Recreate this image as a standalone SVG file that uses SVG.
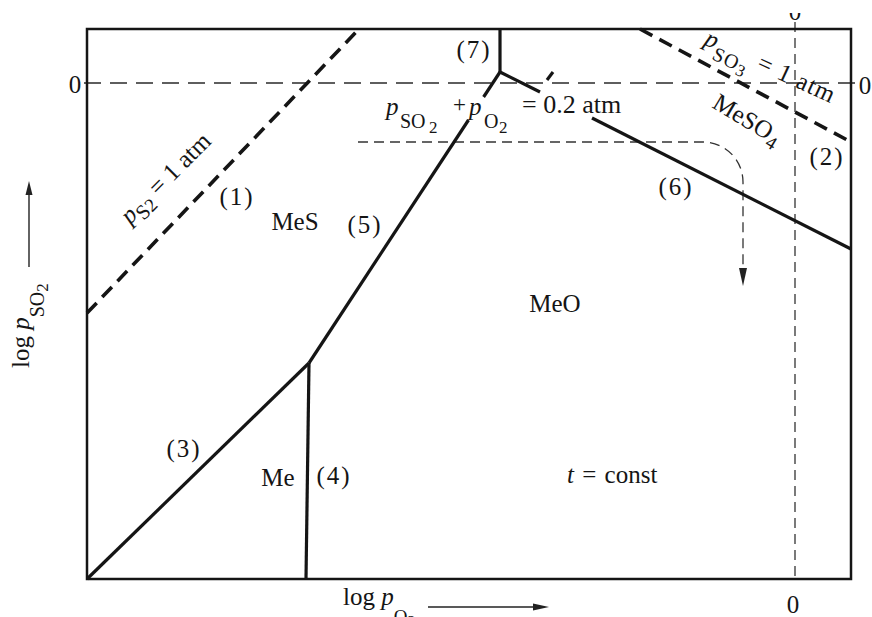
<svg xmlns="http://www.w3.org/2000/svg" width="872" height="617" viewBox="0 0 872 617">
<style>
.frame{fill:none;stroke:#151515;stroke-width:2.5}
.solid{fill:none;stroke:#151515;stroke-width:3.2}
.thick{fill:none;stroke:#151515;stroke-width:3.6;stroke-dasharray:14 8}
.thin{fill:none;stroke:#2a2a2a;stroke-width:1.6;stroke-dasharray:17 9}
.fine{fill:none;stroke:#333;stroke-width:1.3;stroke-dasharray:10 6}
.axis{fill:none;stroke:#222;stroke-width:1.4}
text{font-family:"Liberation Serif","DejaVu Serif",serif;font-size:25px;fill:#151515}
.it{font-style:italic}
.num{letter-spacing:2px}
</style>
<defs>
<clipPath id="topclip"><rect x="770" y="13" width="50" height="20"/></clipPath>
</defs>
<rect width="872" height="617" fill="#fff"/>

<g id="reference-lines">
<line class="thin" x1="84" y1="83" x2="858" y2="83"/>
<line class="fine" x1="795" y1="22" x2="795" y2="579"/>
<path class="fine" d="M358,142 H703 A40,40 0 0 1 743,182 V272"/>
<polygon points="739,268 747,268 743,286" fill="#222"/>
</g>

<g id="frame">
<rect class="frame" x="87" y="29" width="764" height="550"/>
</g>

<g id="connectors">
<line class="thick" x1="87" y1="313" x2="359" y2="29"/>
<line class="thick" x1="640" y1="29" x2="851" y2="142"/>
<line class="solid" x1="87" y1="579" x2="309" y2="363"/>
<line class="solid" x1="309" y1="363" x2="306" y2="579"/>
<line class="solid" x1="309" y1="363" x2="468.5" y2="120"/>
<line class="solid" x1="483.6" y1="97" x2="500" y2="72"/>
<line class="solid" x1="500" y1="29" x2="500" y2="72"/>
<line class="solid" x1="500" y1="72" x2="540" y2="92"/>
<line class="solid" x1="592" y1="118" x2="851" y2="249"/>
<line class="solid" x1="547" y1="80" x2="553" y2="72"/>
</g>

<g id="axis-labels">
<text x="75" y="93" text-anchor="middle">0</text>
<text x="865" y="94" text-anchor="middle">0</text>
<text x="793" y="613" text-anchor="middle">0</text>
<g clip-path="url(#topclip)"><text x="795" y="20" text-anchor="middle">0</text></g>
<text transform="translate(29,368) rotate(-90)" font-size="27">log <tspan class="it">p</tspan><tspan dy="15" font-size="20">SO</tspan><tspan dy="4" font-size="17">2</tspan></text>
<line class="axis" x1="29" y1="267" x2="29" y2="192"/>
<polygon points="25.5,195 32.5,195 29,181" fill="#222"/>
<text x="343" y="605">log <tspan class="it">p</tspan><tspan dy="18" font-size="19">O</tspan><tspan dy="4" font-size="16">2</tspan></text>
<line class="axis" x1="428" y1="607" x2="536" y2="607"/>
<polygon points="533,603.5 533,610.5 549,607" fill="#222"/>
</g>

<g id="region-labels">
<text x="295" y="230" text-anchor="middle">MeS</text>
<text x="555" y="312" text-anchor="middle">MeO</text>
<text x="278" y="486" text-anchor="middle">Me</text>
<text x="567" y="483" font-size="26" word-spacing="2"><tspan class="it">t</tspan> = const</text>
<text transform="translate(711,107) rotate(31)">MeSO<tspan dy="6" font-size="19">4</tspan></text>
</g>

<g id="line-labels">
<text class="num" x="474" y="58" text-anchor="middle">(7)</text>
<text class="num" x="237" y="205" text-anchor="middle">(1)</text>
<text class="num" x="365" y="233" text-anchor="middle">(5)</text>
<text class="num" x="827" y="165" text-anchor="middle">(2)</text>
<text class="num" x="676" y="195" text-anchor="middle">(6)</text>
<text class="num" x="184" y="457" text-anchor="middle">(3)</text>
<text class="num" x="334" y="484" text-anchor="middle">(4)</text>
<text transform="translate(130,225) rotate(-45)" font-size="27"><tspan class="it">p</tspan><tspan dy="7" font-size="21">S</tspan><tspan font-size="19">2</tspan><tspan dy="-7"> = 1 atm</tspan></text>
<text transform="translate(703,44) rotate(25)" font-size="27" letter-spacing="1"><tspan class="it">p</tspan><tspan dy="10" font-size="20">SO</tspan><tspan dy="4" font-size="17">3</tspan><tspan dy="-14"> = 1 atm</tspan></text>
<text><tspan class="it" x="386" y="115">p</tspan><tspan x="400" y="128" font-size="20">SO</tspan><tspan x="429" y="133" font-size="17">2</tspan><tspan x="453" y="112" font-size="23">+</tspan><tspan class="it" x="469" y="115">p</tspan><tspan x="484" y="128" font-size="20">O</tspan><tspan x="499" y="133" font-size="17">2</tspan><tspan x="522" y="113" font-size="26">= 0.2 atm</tspan></text>
</g>
</svg>
